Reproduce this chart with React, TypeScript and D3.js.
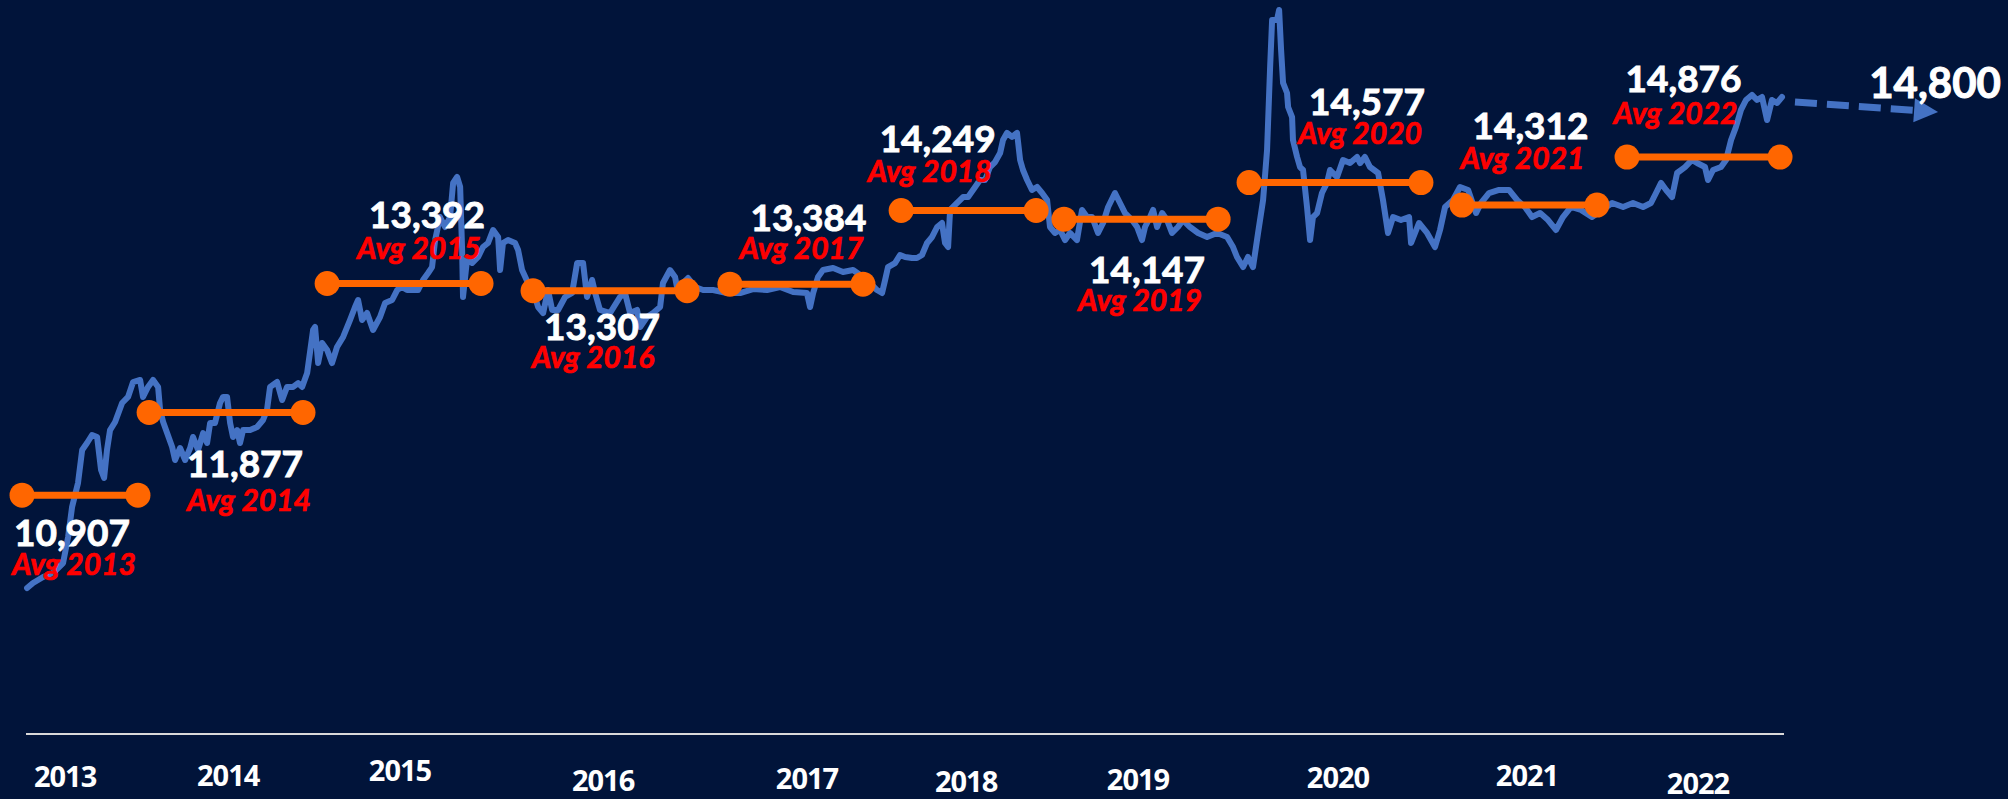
import React from "react";
import * as d3 from "d3";

// yearly averages (USD/IDR) and the span each orange bar covers, in decimal years
const years = [2013, 2014, 2015, 2016, 2017, 2018, 2019, 2020, 2021, 2022];
const avgRate = [10907, 11877, 13392, 13307, 13384, 14249, 14147, 14577, 14312, 14876];
const avgStart = [2013.278, 2013.984, 2014.973, 2016.117, 2017.211, 2018.162, 2019.067, 2020.095, 2021.278, 2022.195];
const avgEnd = [2013.922, 2014.839, 2015.828, 2016.973, 2017.95, 2018.912, 2019.923, 2021.05, 2022.028, 2023.045];

// where the year names sit on the time axis
const yearTicks = [2013.517, 2014.423, 2015.378, 2016.506, 2017.639, 2018.523, 2019.478, 2020.589, 2021.639, 2022.589];

// projection
const forecastValue = 14800;
const forecastPath: [number, number][] = [
  [2023.128, 15523],
  [2023.923, 15405],
];

// daily rate: [decimal year, IDR per USD]
const usdIdr: [number, number][] = [
  [2013.306, 9817], [2013.339, 9876], [2013.395, 9946], [2013.45, 9993], [2013.506, 10110],
  [2013.534, 10416], [2013.556, 10768], [2013.589, 11050], [2013.612, 11437], [2013.639, 11519],
  [2013.667, 11613], [2013.695, 11590], [2013.717, 11202], [2013.734, 11108], [2013.75, 11437],
  [2013.767, 11671], [2013.795, 11766], [2013.834, 11989], [2013.867, 12060], [2013.895, 12235],
  [2013.934, 12259], [2013.95, 12060], [2013.978, 12177], [2014.006, 12259], [2014.034, 12177],
  [2014.045, 11907], [2014.062, 11766], [2014.084, 11636], [2014.112, 11472], [2014.128, 11320],
  [2014.156, 11460], [2014.184, 11320], [2014.212, 11460], [2014.228, 11590], [2014.256, 11437],
  [2014.284, 11636], [2014.306, 11519], [2014.323, 11754], [2014.35, 11754], [2014.378, 11989],
  [2014.395, 12060], [2014.417, 12060], [2014.434, 11754], [2014.45, 11590], [2014.473, 11671],
  [2014.489, 11519], [2014.506, 11671], [2014.545, 11671], [2014.584, 11707], [2014.617, 11789],
  [2014.639, 11907], [2014.656, 12177], [2014.695, 12235], [2014.723, 12024], [2014.75, 12177],
  [2014.784, 12177], [2014.812, 12223], [2014.834, 12177], [2014.862, 12341], [2014.895, 12846],
  [2014.906, 12881], [2014.923, 12458], [2014.945, 12693], [2014.973, 12611], [2015.0, 12458],
  [2015.028, 12646], [2015.062, 12764], [2015.1, 12963], [2015.128, 13116], [2015.145, 13198],
  [2015.167, 12963], [2015.195, 13045], [2015.228, 12846], [2015.267, 12998], [2015.295, 13163],
  [2015.334, 13198], [2015.362, 13315], [2015.389, 13351], [2015.417, 13315], [2015.45, 13315],
  [2015.478, 13315], [2015.506, 13433], [2015.534, 13515], [2015.556, 13585], [2015.573, 13902],
  [2015.6, 14172], [2015.628, 14055], [2015.656, 14172], [2015.673, 14572], [2015.695, 14642],
  [2015.712, 14525], [2015.723, 13785], [2015.728, 13233], [2015.75, 13668], [2015.778, 13632],
  [2015.812, 13703], [2015.839, 13820], [2015.867, 13867], [2015.895, 14020], [2015.923, 13938],
  [2015.934, 13550], [2015.95, 13867], [2015.978, 13902], [2016.017, 13867], [2016.034, 13785],
  [2016.056, 13550], [2016.089, 13398], [2016.117, 13315], [2016.145, 13116], [2016.173, 13045],
  [2016.2, 13315], [2016.223, 13081], [2016.256, 13081], [2016.295, 13233], [2016.334, 13280],
  [2016.362, 13632], [2016.395, 13632], [2016.417, 13233], [2016.445, 13433], [2016.462, 13280],
  [2016.489, 13081], [2016.545, 13045], [2016.6, 13233], [2016.628, 13280], [2016.656, 13045],
  [2016.695, 13081], [2016.712, 12881], [2016.75, 12998], [2016.784, 13045], [2016.823, 13116],
  [2016.839, 13398], [2016.878, 13550], [2016.906, 13468], [2016.923, 13280], [2016.95, 13398],
  [2016.978, 13456], [2017.017, 13351], [2017.062, 13315], [2017.117, 13315], [2017.195, 13280],
  [2017.267, 13280], [2017.339, 13327], [2017.417, 13315], [2017.489, 13351], [2017.562, 13292],
  [2017.639, 13280], [2017.656, 13116], [2017.673, 13280], [2017.7, 13468], [2017.728, 13550],
  [2017.784, 13574], [2017.839, 13527], [2017.895, 13550], [2017.95, 13468], [2017.989, 13398],
  [2018.028, 13315], [2018.056, 13280], [2018.073, 13433], [2018.089, 13585], [2018.128, 13632],
  [2018.156, 13726], [2018.184, 13703], [2018.223, 13691], [2018.25, 13691], [2018.278, 13726],
  [2018.306, 13867], [2018.334, 13938], [2018.362, 14055], [2018.389, 14102], [2018.406, 13867],
  [2018.423, 13820], [2018.434, 14255], [2018.473, 14337], [2018.506, 14407], [2018.534, 14407],
  [2018.573, 14525], [2018.6, 14607], [2018.628, 14607], [2018.656, 14759], [2018.684, 14818],
  [2018.712, 14924], [2018.728, 15076], [2018.75, 15159], [2018.778, 15112], [2018.806, 15159],
  [2018.823, 14842], [2018.839, 14724], [2018.862, 14607], [2018.889, 14490], [2018.917, 14525],
  [2018.945, 14454], [2018.973, 14372], [2018.989, 14055], [2019.017, 13985], [2019.045, 14020],
  [2019.073, 13902], [2019.1, 13985], [2019.139, 13902], [2019.167, 14255], [2019.195, 14172],
  [2019.223, 14172], [2019.256, 13985], [2019.284, 14102], [2019.312, 14290], [2019.35, 14454],
  [2019.378, 14337], [2019.406, 14219], [2019.445, 14137], [2019.473, 14055], [2019.5, 13902],
  [2019.517, 14055], [2019.545, 14172], [2019.562, 14255], [2019.584, 14055], [2019.612, 14219],
  [2019.639, 14137], [2019.667, 13985], [2019.7, 14055], [2019.728, 14137], [2019.767, 14055],
  [2019.812, 13985], [2019.862, 13938], [2019.917, 13985], [2019.973, 13938], [2020.006, 13820],
  [2020.028, 13703], [2020.062, 13585], [2020.089, 13703], [2020.117, 13585], [2020.145, 13985],
  [2020.173, 14372], [2020.195, 14959], [2020.212, 15933], [2020.223, 16485], [2020.25, 16485],
  [2020.262, 16603], [2020.273, 16133], [2020.284, 15746], [2020.306, 15628], [2020.312, 15464],
  [2020.334, 15346], [2020.339, 15076], [2020.362, 14877], [2020.378, 14759], [2020.395, 14724],
  [2020.417, 14290], [2020.434, 13902], [2020.45, 14172], [2020.473, 14219], [2020.5, 14454],
  [2020.528, 14572], [2020.545, 14724], [2020.584, 14642], [2020.617, 14842], [2020.656, 14806],
  [2020.695, 14877], [2020.712, 14806], [2020.739, 14877], [2020.767, 14759], [2020.812, 14689],
  [2020.839, 14372], [2020.867, 13985], [2020.895, 14172], [2020.939, 14137], [2020.984, 14172],
  [2020.995, 13867], [2021.039, 14102], [2021.084, 13985], [2021.128, 13820], [2021.156, 14020],
  [2021.184, 14290], [2021.228, 14372], [2021.267, 14525], [2021.312, 14490], [2021.356, 14219],
  [2021.384, 14337], [2021.428, 14454], [2021.484, 14490], [2021.539, 14490], [2021.584, 14372],
  [2021.628, 14290], [2021.667, 14172], [2021.712, 14219], [2021.756, 14137], [2021.8, 14020],
  [2021.839, 14172], [2021.884, 14290], [2021.939, 14255], [2022.0, 14172], [2022.056, 14255],
  [2022.112, 14337], [2022.173, 14290], [2022.228, 14337], [2022.284, 14290], [2022.328, 14337],
  [2022.356, 14454], [2022.384, 14572], [2022.412, 14490], [2022.445, 14407], [2022.473, 14689],
  [2022.517, 14759], [2022.556, 14842], [2022.584, 14806], [2022.628, 14759], [2022.645, 14607],
  [2022.673, 14724], [2022.717, 14759], [2022.745, 14842], [2022.773, 15076], [2022.8, 15229],
  [2022.828, 15429], [2022.856, 15546], [2022.889, 15605], [2022.917, 15546], [2022.945, 15581],
  [2022.973, 15311], [2023.0, 15546], [2023.028, 15511], [2023.056, 15581],
];

const W = 2008;
const H = 799;
const BG = "#01143a";
const BLUE = "#4472c4";
const ORANGE = "#ff6600";
const RED = "#ff0000";

// label placement relative to each bar's centre (px)
const valueOffset = [[-8, 51], [19, 64], [23, -55], [-8, 49], [12, -53], [-31, -58], [6, 64], [32, -68], [1, -66], [-20, -65]];
const avgShift = [[2, 29], [4, 34], [-8, 31], [-9, 28], [-7, 28], [-8, 30], [-7, 28], [-7, 29], [-8, 30], [-8, 32]];
const yearBaseline = [787, 786, 781, 791, 789, 792, 790, 788, 786, 794];

export default function App() {
  const x = d3.scaleLinear().domain([2013.3, 2023.067]).range([26, 1784]);
  const y = d3.scaleLinear().domain([9676, 16720]).range([600, 0]);
  const fmt = d3.format(",");

  const line = d3
    .line<[number, number]>()
    .x((d) => x(d[0]))
    .y((d) => y(d[1]));

  // dashed projection with arrow head
  const p0 = [x(forecastPath[0][0]), y(forecastPath[0][1])];
  const p1 = [x(forecastPath[1][0]), y(forecastPath[1][1])];
  const len = Math.hypot(p1[0] - p0[0], p1[1] - p0[1]);
  const ux = (p1[0] - p0[0]) / len;
  const uy = (p1[1] - p0[1]) / len;
  const headLen = 24;
  const headHalf = 12;
  const bx = p1[0] - ux * headLen;
  const by = p1[1] - uy * headLen;
  const head = [
    [p1[0], p1[1]],
    [bx - uy * headHalf, by + ux * headHalf],
    [bx + uy * headHalf, by - ux * headHalf],
  ]
    .map((p) => p.join(","))
    .join(" ");

  return (
    <svg
      width={W}
      height={H}
      style={{ position: "absolute", left: 0, top: 0, display: "block", background: BG }}
    >
      <rect width={W} height={H} fill={BG} />

      {/* axis line */}
      <line x1={x(2013.3)} x2={x(2023.067)} y1={734} y2={734} stroke="#d9d9d9" strokeWidth={2} />

      {/* year names */}
      {years.map((yr, i) => (
        <text
          key={"yr" + yr}
          x={x(yearTicks[i])}
          y={yearBaseline[i]}
          textAnchor="middle"
          fill="#ffffff"
          fontFamily="'Open Sans', 'Liberation Sans', sans-serif"
          fontWeight={700}
          fontSize={29}
          letterSpacing={-1}
        >
          {yr}
        </text>
      ))}

      {/* daily rate */}
      <path
        d={line(usdIdr) || ""}
        fill="none"
        stroke={BLUE}
        strokeWidth={6}
        strokeLinejoin="round"
        strokeLinecap="round"
      />

      {/* projection arrow */}
      <line
        x1={p0[0]}
        y1={p0[1]}
        x2={bx}
        y2={by}
        stroke={BLUE}
        strokeWidth={7}
        strokeDasharray="22 10"
      />
      <polygon points={head} fill={BLUE} />

      {/* yearly average bars */}
      {years.map((yr, i) => {
        const xs = x(avgStart[i]);
        const xe = x(avgEnd[i]);
        const yy = y(avgRate[i]);
        return (
          <g key={"bar" + yr}>
            <line x1={xs} x2={xe} y1={yy} y2={yy} stroke={ORANGE} strokeWidth={7} />
            <circle cx={xs} cy={yy} r={12.5} fill={ORANGE} />
            <circle cx={xe} cy={yy} r={12.5} fill={ORANGE} />
          </g>
        );
      })}

      {/* labels */}
      {years.map((yr, i) => {
        const mid = (x(avgStart[i]) + x(avgEnd[i])) / 2;
        const yy = y(avgRate[i]);
        const vx = mid + valueOffset[i][0];
        const vy = yy + valueOffset[i][1];
        return (
          <g key={"lbl" + yr}>
            <text
              x={vx}
              y={vy}
              textAnchor="middle"
              fill="#ffffff"
              stroke="#ffffff"
              strokeWidth={0.9}
              fontFamily="Lato, 'Open Sans', sans-serif"
              fontWeight={700}
              fontSize={37}
            >
              {fmt(avgRate[i])}
            </text>
            <text
              x={vx + avgShift[i][0]}
              y={vy + avgShift[i][1]}
              textAnchor="middle"
              fill={RED}
              stroke={RED}
              strokeWidth={0.7}
              fontFamily="Lato, 'Open Sans', sans-serif"
              fontWeight={700}
              fontStyle="italic"
              fontSize={30}
            >
              {"Avg " + yr}
            </text>
          </g>
        );
      })}

      <text
        x={p1[0] - 3}
        y={98}
        textAnchor="middle"
        fill="#ffffff"
        stroke="#ffffff"
        strokeWidth={1}
        fontFamily="Lato, 'Open Sans', sans-serif"
        fontWeight={700}
        fontSize={42}
      >
        {fmt(forecastValue)}
      </text>
    </svg>
  );
}
